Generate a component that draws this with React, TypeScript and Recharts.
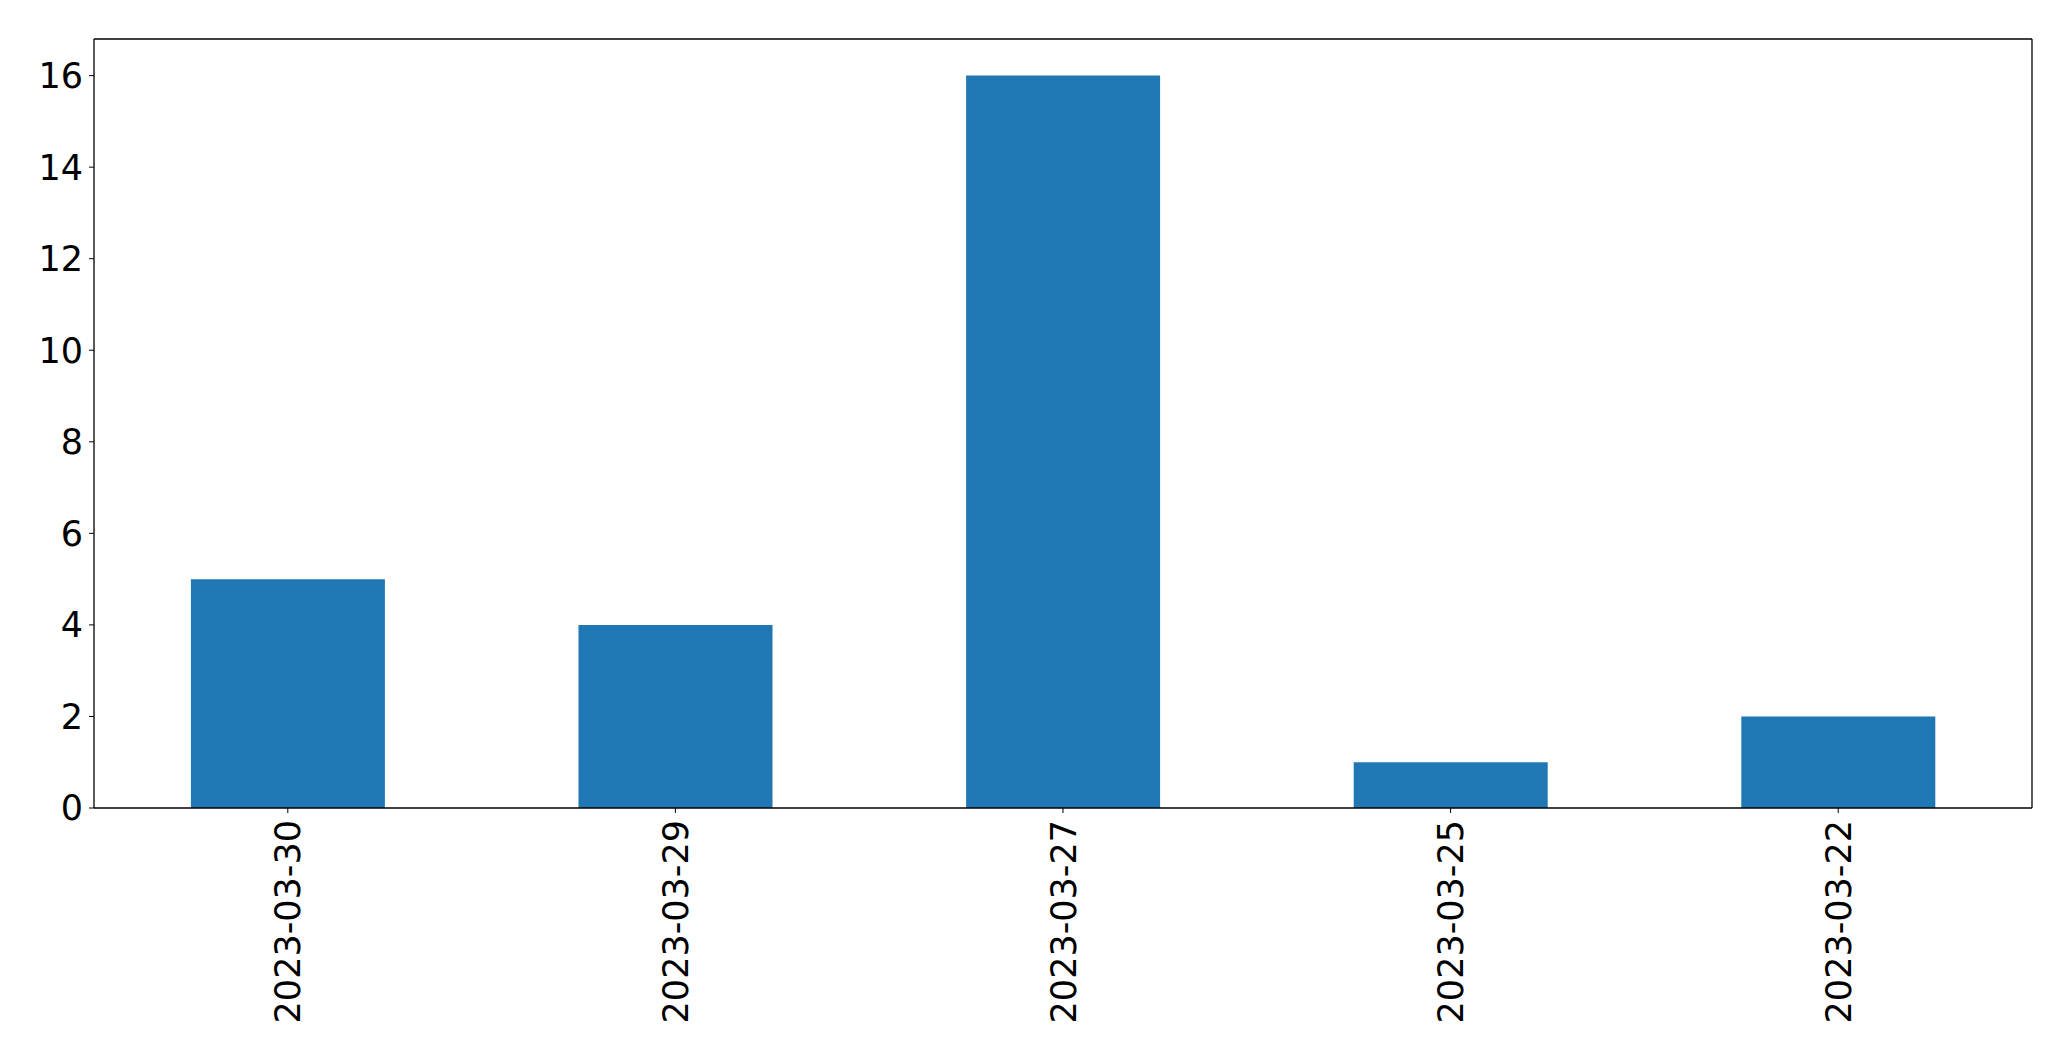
import { BarChart, Bar, XAxis, YAxis, CartesianGrid } from 'recharts'

const DATES = ['2023-03-30', '2023-03-29', '2023-03-27', '2023-03-25', '2023-03-22']
const COUNTS = [5, 4, 16, 1, 2]
const Y_TICKS = [0, 2, 4, 6, 8, 10, 12, 14, 16]

const FONT = 'DejaVu Sans, sans-serif'
const FONT_SIZE = 35

const data = DATES.map((date, i) => ({ date, count: COUNTS[i] }))

// rotated date label, top of the text hangs just under the tick
function DateTick({ x, y, payload }: any) {
  return (
    <g transform={`translate(${x},${y + 5})`}>
      <text
        transform="rotate(-90)"
        textAnchor="end"
        dy="0.36em"
        fill="#000"
        fontFamily={FONT}
        fontSize={FONT_SIZE}
      >
        {payload.value}
      </text>
    </g>
  )
}

export default function App() {
  return (
    <div style={{ position: 'absolute', left: 0, top: 0, background: '#fff' }}>
      <BarChart
        width={2071}
        height={1061}
        data={data}
        margin={{ top: 39, right: 39, bottom: 0, left: 0 }}
        barCategoryGap="25%"
      >
        {/* top + right spines of the frame */}
        <CartesianGrid
          stroke="#000"
          strokeWidth={1.3}
          horizontalCoordinatesGenerator={({ offset }: any) => [offset.top]}
          verticalCoordinatesGenerator={({ offset }: any) => [offset.left + offset.width]}
        />
        <XAxis
          dataKey="date"
          tick={<DateTick />}
          tickSize={5}
          interval={0}
          height={253}
          stroke="#000"
          axisLine={{ stroke: '#000', strokeWidth: 1.3 }}
          tickLine={{ stroke: '#000' }}
        />
        <YAxis
          domain={[0, 16.8]}
          ticks={Y_TICKS}
          width={94}
          tickSize={5}
          tickMargin={6}
          axisLine={{ stroke: '#000', strokeWidth: 1.3 }}
          tickLine={{ stroke: '#000' }}
          tick={{ fill: '#000', fontFamily: FONT, fontSize: FONT_SIZE }}
        />
        <Bar dataKey="count" fill="#1f77b4" isAnimationActive={false} />
      </BarChart>
    </div>
  )
}
